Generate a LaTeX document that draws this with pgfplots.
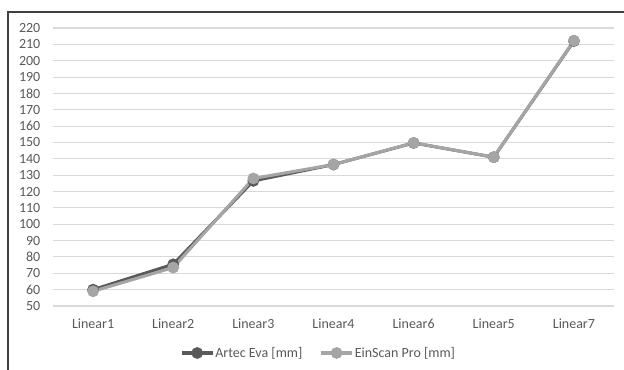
\documentclass[border=0pt]{standalone}
\usepackage{pgfplots}
\pgfplotsset{compat=1.18}
\usepackage{fontspec}
\setmainfont{Carlito}

\definecolor{txtgray}{HTML}{595959}
\definecolor{gridgray}{HTML}{D9D9D9}
\definecolor{artec}{HTML}{595959}
\definecolor{einscan}{HTML}{A5A5A5}
\definecolor{framegray}{HTML}{404040}

\begin{document}
\begin{tikzpicture}
  \useasboundingbox (0pt,0pt) rectangle (468pt,277.5pt);
  % outer frame (left and top edges)
  \draw[framegray,line width=1.2pt] (6pt,0pt) -- (6pt,268.5pt) -- (468pt,268.5pt);
  \begin{axis}[
    at={(39.75pt,48pt)}, anchor=south west,
    scale only axis,
    width=420.75pt, height=208.5pt,
    xmin=-0.5, xmax=6.5,
    ymin=50, ymax=220,
    xtick={0,...,6},
    xticklabels={Linear1,Linear2,Linear3,Linear4,Linear6,Linear5,Linear7},
    ytick={50,60,...,220},
    ymajorgrids,
    grid style={gridgray,line width=0.8pt},
    axis line style={draw=none},
    major tick length=0pt,
    tick label style={font=\fontsize{10.5}{12}\selectfont,text=txtgray},
    /pgf/number format/assume math mode=true,
    yticklabel style={xshift=-6pt},
    xticklabel style={yshift=-6pt},
    legend style={
      at={(0.473,-0.169)}, anchor=center,
      draw=none, fill=none,
      font=\fontsize{10.5}{12}\selectfont, text=txtgray,
      legend columns=2,
      nodes={inner xsep=1pt},
      /tikz/every even column/.append style={column sep=12pt},
      inner sep=0pt,
    },
    legend cell align=left,
    legend image code/.code={%
      \draw[mark repeat=2,mark phase=2]
        plot coordinates {(0pt,0pt) (11.5pt,0pt) (23pt,0pt)};
    },
  ]
    \addplot[artec, line width=2.3pt, mark=*, mark size=3.2pt,
             mark options={artec}]
      coordinates {(0,60) (1,75.5) (2,126.5) (3,136.5) (4,149.7) (5,141) (6,212)};
    \addlegendentry{Artec Eva [mm]}
    \addplot[einscan, line width=2.3pt, mark=*, mark size=3.2pt,
             mark options={einscan}]
      coordinates {(0,59) (1,73.5) (2,128) (3,136.5) (4,149.8) (5,141) (6,212.3)};
    \addlegendentry{EinScan Pro [mm]}
  \end{axis}
\end{tikzpicture}
\end{document}
